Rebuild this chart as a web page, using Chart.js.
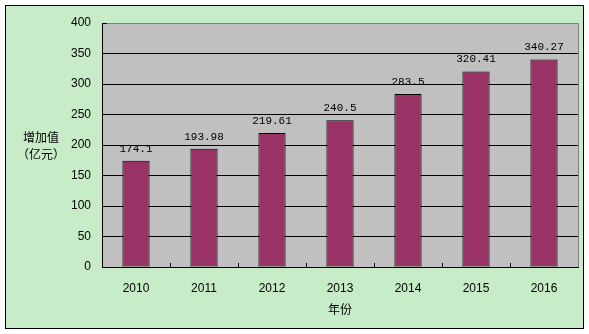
<!DOCTYPE html>
<html>
<head>
<meta charset="utf-8">
<script src="https://cdn.jsdelivr.net/npm/chart.js@4/dist/chart.umd.min.js"></script>
<style>
  html, body { margin: 0; padding: 0; background: #fff; }
  #wrap { width: 589px; height: 334px; }
</style>
</head>
<body>
<div id="wrap"><canvas id="chart" width="589" height="334"></canvas></div>
<script>
const years = ['2010', '2011', '2012', '2013', '2014', '2015', '2016'];
const values = [174.1, 193.98, 219.61, 240.5, 283.5, 320.41, 340.27];
const yTicks = [0, 50, 100, 150, 200, 250, 300, 350, 400];
const yTitle = ['增加值', '（亿元）'];
const xTitle = '年份';

const labelFont = '11px "Liberation Mono", "DejaVu Sans Mono", monospace';
const cjkFont = '12px "Noto Sans CJK SC", sans-serif';

// page frame, plot background, top/right border and small category ticks
const framePlugin = {
  id: 'frame',
  beforeDraw(chart) {
    const ctx = chart.ctx;
    const a = chart.chartArea;
    ctx.save();
    ctx.fillStyle = '#fff';
    ctx.fillRect(0, 0, chart.width, chart.height);
    ctx.fillStyle = '#c8ecc8';
    ctx.fillRect(5, 5, 579, 324);
    ctx.strokeStyle = '#000';
    ctx.lineWidth = 1;
    ctx.strokeRect(5.5, 5.5, 578, 323);
    ctx.fillStyle = '#c0c0c0';
    ctx.fillRect(a.left, a.top, a.right - a.left, a.bottom - a.top);
    ctx.restore();
  },
  afterDraw(chart) {
    const ctx = chart.ctx;
    const a = chart.chartArea;
    ctx.save();
    ctx.strokeStyle = '#808080';
    ctx.lineWidth = 1;
    ctx.beginPath();
    ctx.moveTo(a.left + 5, a.top + 0.5);
    ctx.lineTo(a.right + 0.5, a.top + 0.5);
    ctx.lineTo(a.right + 0.5, a.bottom);
    ctx.stroke();
    ctx.strokeStyle = '#000';
    ctx.beginPath();
    ctx.moveTo(a.left, a.top + 0.5);
    ctx.lineTo(a.left + 5, a.top + 0.5);
    const step = (a.right - a.left) / years.length;
    for (let i = 1; i < years.length; i++) {
      const x = Math.round(a.left + step * i) + 0.5;
      ctx.moveTo(x, a.bottom);
      ctx.lineTo(x, a.bottom - 4);
    }
    ctx.stroke();

    // axis titles
    ctx.fillStyle = '#000';
    ctx.font = cjkFont;
    ctx.textAlign = 'center';
    ctx.textBaseline = 'middle';
    ctx.fillText(yTitle[0], 41, 137);
    ctx.fillText(yTitle[1], 41, 154);
    ctx.fillText(xTitle, (a.left + a.right) / 2, 309);
    ctx.restore();
  }
};

// value labels above each bar
const labelPlugin = {
  id: 'barLabels',
  afterDatasetsDraw(chart) {
    const ctx = chart.ctx;
    const meta = chart.getDatasetMeta(0);
    ctx.save();
    ctx.fillStyle = '#000';
    ctx.font = labelFont;
    ctx.textAlign = 'center';
    ctx.textBaseline = 'middle';
    meta.data.forEach(function(bar, i) {
      ctx.fillText(String(values[i]), bar.x, bar.y - 12);
    });
    ctx.restore();
  }
};

new Chart(document.getElementById('chart'), {
  type: 'bar',
  data: {
    labels: years,
    datasets: [{
      data: values,
      backgroundColor: '#993366',
      borderColor: '#000',
      borderWidth: 1,
      borderSkipped: false,
      barPercentage: 0.4,
      categoryPercentage: 1.0
    }]
  },
  options: {
    responsive: false,
    animation: false,
    layout: { padding: { left: 0, right: 11, top: 23, bottom: 0 } },
    plugins: {
      legend: { display: false },
      tooltip: { enabled: false }
    },
    scales: {
      x: {
        afterFit(scale) { scale.height = 67; },
        grid: { display: false, drawTicks: false },
        border: { display: true, color: '#000', width: 1 },
        ticks: { color: '#000', font: { family: '"Liberation Sans", Arial, sans-serif', size: 12 }, padding: 14 }
      },
      y: {
        min: 0,
        max: 400,
        afterFit(scale) { scale.width = 102; },
        afterBuildTicks(scale) { scale.ticks = yTicks.map(function(v) { return { value: v }; }); },
        grid: {
          drawTicks: false,
          color: function(c) { return c.tick && c.tick.value === 400 ? 'rgba(0,0,0,0)' : '#000'; }
        },
        border: { display: true, color: '#000', width: 1 },
        ticks: { color: '#000', font: { family: '"Liberation Sans", Arial, sans-serif', size: 12 }, padding: 11 }
      }
    }
  },
  plugins: [framePlugin, labelPlugin]
});
</script>
</body>
</html>
